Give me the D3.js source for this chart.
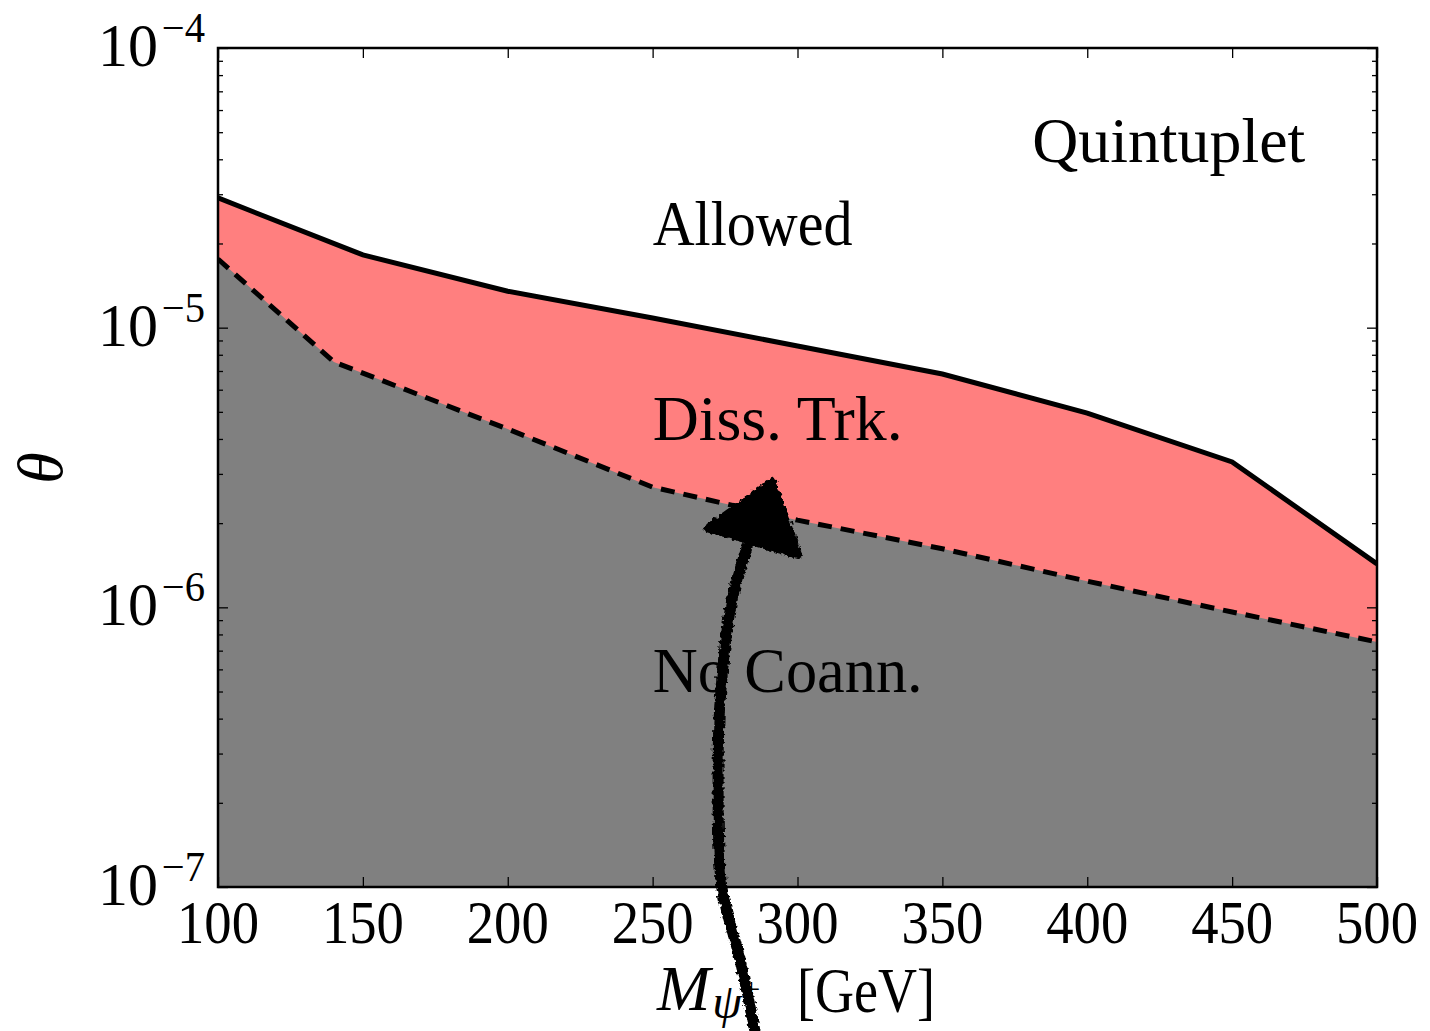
<!DOCTYPE html>
<html><head><meta charset="utf-8">
<script src="https://cdn.jsdelivr.net/npm/d3@7"></script>
<style>html,body{margin:0;padding:0;background:#fff;}svg{display:block;}</style>
</head><body>
<svg id="chart" width="1430" height="1031"></svg>
<script>
// ---- data ----
const xTickValues = [100, 150, 200, 250, 300, 350, 400, 450, 500];
const xTickLabels = ["100", "150", "200", "250", "300", "350", "400", "450", "500"];
const yTickValues = [1e-4, 1e-5, 1e-6, 1e-7];
const yTickExponents = ["\u22124", "\u22125", "\u22126", "\u22127"];

const upperMass = [100, 150, 200, 250, 300, 350, 400, 450, 500];
const upperTheta = [2.91e-5, 1.82e-5, 1.35e-5, 1.083e-5, 8.6e-6, 6.83e-6, 4.95e-6, 3.31e-6, 1.43e-6];

const lowerMass = [100, 140, 200, 250, 300, 350, 400, 450, 500];
const lowerTheta = [1.76e-5, 7.54e-6, 4.34e-6, 2.69e-6, 2.05e-6, 1.62e-6, 1.24e-6, 9.62e-7, 7.52e-7];

// hand-drawn arrow annotation (data coordinates)
const arrowShaftMass = [285.3, 280.2, 273.9, 272.6, 273.3, 277.4, 282.6];
const arrowShaftTheta = [3.06e-8, 5.48e-8, 1e-7, 2.41e-7, 4.66e-7, 1.06e-6, 1.64e-6];
const arrowHeadMass = [291.2, 269.1, 300.2];
const arrowHeadTheta = [2.81e-6, 1.92e-6, 1.54e-6];

const regionLabels = ["Quintuplet", "Allowed", "Diss. Trk.", "No Coann."];
const regionMass = [381, 250, 250, 250];
const regionTheta = [3.91e-5, 1.975e-5, 3.97e-6, 4.98e-7];

// ---- layout ----
const L = 218, R = 1377, T = 48, B = 887;
const svg = d3.select("#chart");
const x = d3.scaleLinear().domain([100, 500]).range([L, R]);
const y = d3.scaleLog().domain([1e-7, 1e-4]).range([B, T]);
const serif = "'Liberation Serif', 'DejaVu Serif', serif";

svg.append("defs").append("clipPath").attr("id", "clip")
  .append("rect").attr("x", L).attr("y", T).attr("width", R - L).attr("height", B - T);

const filt = svg.select("defs").append("filter").attr("id", "rough")
  .attr("x", "-20%").attr("y", "-5%").attr("width", "140%").attr("height", "110%");
filt.append("feTurbulence").attr("type", "fractalNoise").attr("baseFrequency", 0.25)
  .attr("numOctaves", 2).attr("seed", 3).attr("result", "n");
filt.append("feDisplacementMap").attr("in", "SourceGraphic").attr("in2", "n")
  .attr("scale", 6).attr("xChannelSelector", "R").attr("yChannelSelector", "G");

const upper = upperMass.map((m, i) => [m, upperTheta[i]]);
const lower = lowerMass.map((m, i) => [m, lowerTheta[i]]);

const plot = svg.append("g").attr("clip-path", "url(#clip)");
const area = d3.area().x(d => x(d[0])).y0(y(1e-7)).y1(d => y(d[1]));
plot.append("path").datum(upper).attr("d", area).attr("fill", "#ff7f7f");
plot.append("path").datum(lower).attr("d", area).attr("fill", "#808080");

const line = d3.line().x(d => x(d[0])).y(d => y(d[1]));
plot.append("path").datum(upper).attr("d", line).attr("fill", "none")
  .attr("stroke", "#000").attr("stroke-width", 5);
plot.append("path").datum(lower).attr("d", line).attr("fill", "none")
  .attr("stroke", "#000").attr("stroke-width", 5).attr("stroke-dasharray", "14,9");

// ---- axes / ticks ----
const minorY = [];
for (let e = -7; e < -4; e++) for (let k = 2; k <= 9; k++) minorY.push(k * Math.pow(10, e));

function styleAxis(g) {
  g.select(".domain").remove();
  g.selectAll(".tick line").attr("stroke", "#000").attr("stroke-width", 1.3);
  g.selectAll(".tick text").remove();
}
svg.append("g").attr("transform", `translate(0,${B})`)
  .call(d3.axisBottom(x).tickValues(xTickValues).tickSize(-10)).call(styleAxis);
svg.append("g").attr("transform", `translate(0,${T})`)
  .call(d3.axisTop(x).tickValues(xTickValues).tickSize(-10)).call(styleAxis);
svg.append("g").attr("transform", `translate(${L},0)`)
  .call(d3.axisLeft(y).tickValues(yTickValues).tickSize(-10)).call(styleAxis);
svg.append("g").attr("transform", `translate(${R},0)`)
  .call(d3.axisRight(y).tickValues(yTickValues).tickSize(-10)).call(styleAxis);
svg.append("g").attr("transform", `translate(${L},0)`)
  .call(d3.axisLeft(y).tickValues(minorY).tickSize(-5)).call(styleAxis);
svg.append("g").attr("transform", `translate(${R},0)`)
  .call(d3.axisRight(y).tickValues(minorY).tickSize(-5)).call(styleAxis);

svg.append("rect").attr("x", L).attr("y", T).attr("width", R - L).attr("height", B - T)
  .attr("fill", "none").attr("stroke", "#000").attr("stroke-width", 2.5);

// tick labels
svg.append("g").selectAll("text").data(xTickValues).join("text")
  .attr("x", d => x(d)).attr("y", B + 56).attr("text-anchor", "middle")
  .attr("font-family", serif).attr("font-size", 62)
  .attr("textLength", 82).attr("lengthAdjust", "spacingAndGlyphs")
  .text((d, i) => xTickLabels[i]);

const ylab = svg.append("g").selectAll("text").data(yTickValues).join("text")
  .attr("x", 98).attr("y", d => y(d) + 18)
  .attr("font-family", serif)
  .attr("textLength", 107).attr("lengthAdjust", "spacingAndGlyphs");
ylab.append("tspan").attr("font-size", 62).text("10");
ylab.append("tspan").attr("font-size", 42).attr("dx", 4).attr("dy", -24)
  .text((d, i) => yTickExponents[i]);

// region labels
const regionWidths = [273, 200, 250, 270];
svg.append("g").selectAll("text").data(regionLabels).join("text")
  .attr("x", (d, i) => x(regionMass[i]))
  .attr("y", (d, i) => y(regionTheta[i]))
  .attr("font-family", serif).attr("font-size", 64)
  .attr("textLength", (d, i) => regionWidths[i]).attr("lengthAdjust", "spacingAndGlyphs")
  .text(d => d);

// axis titles
svg.append("text").attr("transform", "translate(62,468) rotate(-90)")
  .attr("text-anchor", "middle").attr("font-family", serif).attr("font-style", "italic")
  .attr("font-size", 64).text("\u03b8");

const xt = svg.append("text").attr("x", 657).attr("y", 1010).attr("font-family", serif);
xt.append("tspan").attr("font-size", 64).attr("font-style", "italic").text("M");
xt.append("tspan").attr("font-size", 48).attr("font-style", "italic").attr("dx", 2).attr("dy", 8).text("\u03c8");
xt.append("tspan").attr("font-size", 32).attr("dx", 0).attr("dy", -18).text("+");
svg.append("text").attr("x", 797).attr("y", 1012).attr("font-family", serif).attr("font-size", 64)
  .attr("textLength", 138).attr("lengthAdjust", "spacingAndGlyphs").text("[GeV]");

// arrow annotation
const arrow = svg.append("g").attr("filter", "url(#rough)");
const shaft = arrowShaftMass.map((m, i) => [m, arrowShaftTheta[i]]);
const head = arrowHeadMass.map((m, i) => [m, arrowHeadTheta[i]]);
arrow.append("path").datum(shaft)
  .attr("d", d3.line().x(d => x(d[0])).y(d => y(d[1])).curve(d3.curveCatmullRom))
  .attr("fill", "none").attr("stroke", "#000").attr("stroke-width", 11).attr("stroke-linecap", "round");
arrow.append("path").datum(head)
  .attr("d", d3.line().x(d => x(d[0])).y(d => y(d[1])).curve(d3.curveLinearClosed))
  .attr("fill", "#000").attr("stroke", "#000").attr("stroke-width", 8).attr("stroke-linejoin", "round");
</script>
</body></html>
